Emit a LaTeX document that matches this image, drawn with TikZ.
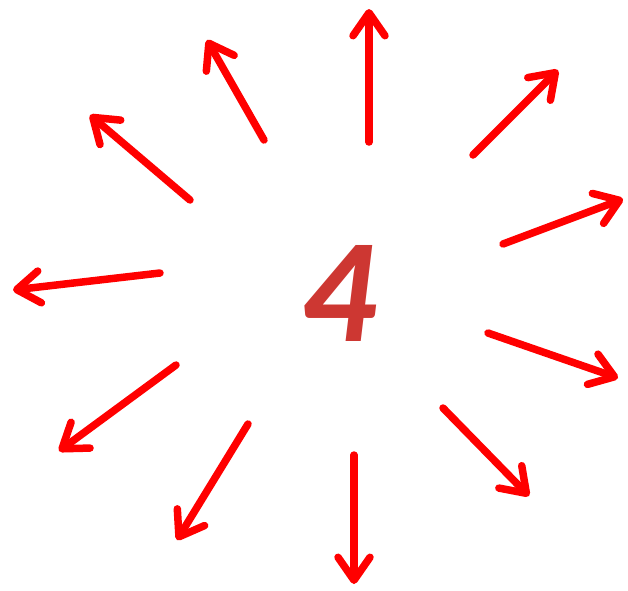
\documentclass[tikz,border=0pt]{standalone}
\usepackage{fontspec}
\newfontfamily\numfont[FakeSlant=0.12]{Carlito}
\usetikzlibrary{arrows.meta}
\definecolor{arrowred}{RGB}{255,0,0}
\definecolor{fourred}{RGB}{205,55,50}
\tikzset{
  ray/.style={draw=arrowred, line width=7.5pt, line cap=round,
    -{Straight Barb[length=23pt,width=32pt,round]}},
}
\begin{document}
\begin{tikzpicture}[x=1pt,y=-1pt]
\useasboundingbox (0,0) rectangle (628,590);
% centre digit
\node[font=\numfont\bfseries\fontsize{148}{148}\selectfont, text=fourred] (four) at (337,293) {4};
% arrow endpoints
\foreach \n/\sx/\sy/\ex/\ey in {
  1/369/142/369/9,
  2/473/155/558/70,
  3/503/244/623/199,
  4/488/333/618/378,
  5/443/408/529/496,
  6/354/455/354/584,
  7/248/424/177/540,
  8/176/365/59/451,
  9/160/273/13/290,
  10/190/200/90/115,
  11/264/140/207/40}{
  \coordinate (s\n) at (\sx,\sy);
  \coordinate (e\n) at (\ex,\ey);
  \draw[ray] (s\n) -- (e\n);
}
\end{tikzpicture}
\end{document}
